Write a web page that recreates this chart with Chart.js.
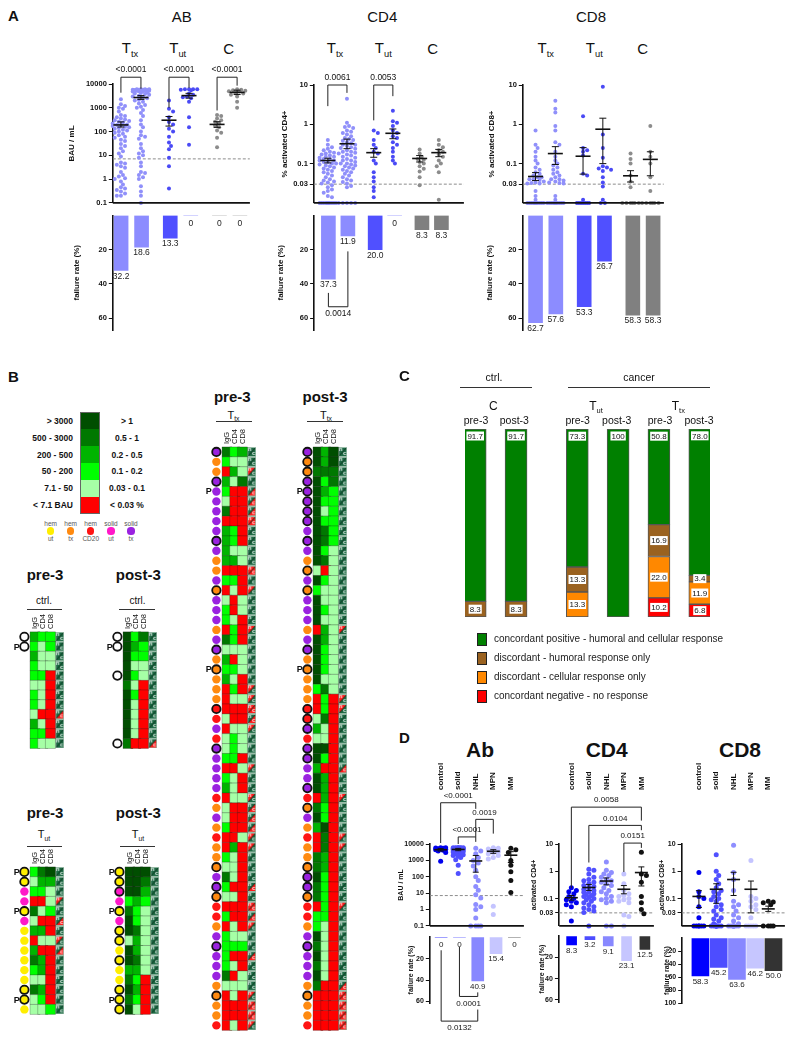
<!DOCTYPE html>
<html>
<head>
<meta charset="utf-8">
<title>Vaccine response: humoral and cellular</title>
<script src="https://cdn.jsdelivr.net/npm/chart.js@4.4.0/dist/chart.umd.min.js"></script>
<style>
  body { margin: 0; background: #fff; }
  #page { position: relative; width: 791px; height: 1041px; overflow: hidden;
          font-family: "Liberation Sans", Arial, sans-serif; color: #111; }
  #page canvas { position: absolute; }
  .lbl { position: absolute; transform: translate(-50%, -50%); white-space: nowrap; line-height: 1; }
  .sub { font-size: 0.62em; position: relative; top: 0.4em; }
  .rule { position: absolute; height: 1px; background: #333; }
  .letter { position: absolute; font-weight: bold; font-size: 15px; line-height: 1; }
  .bin { position: absolute; width: 18px; }
  .legsq { position: absolute; width: 8px; height: 11px; border: 1px solid #222; }
  .legtx { position: absolute; font-size: 10px; line-height: 1; white-space: nowrap; color: #222; }
</style>
</head>
<body>
<div id="page"></div>
<script>
/* ================================================================
   Figure — antibody / T-cell response after vaccination
   ================================================================ */

// ── Panel A · groups ─────────────────────────────────────────
const groupsA = ['Ttx pre-3', 'Ttx post-3', 'Tut pre-3', 'Tut post-3', 'C pre-3', 'C post-3'];

// ── Panel A · anti-spike IgG (BAU / mL) ──────────────────────
const abTtxPre  = [2300, 1400, 1200, 1000, 900, 700, 500, 450, 400, 350, 320, 300, 280, 260, 240, 220, 200, 190, 180, 170,
                   160, 150, 140, 130, 120, 110, 100, 90, 80, 70, 60, 55, 45, 40, 30, 25, 20, 15, 12, 9,
                   5, 4.5, 4, 3.5, 3, 2, 1.5, 1.3, 1.1, 1, 0.8, 0.6, 0.45, 0.4, 0.35, 0.3, 0.25, 0.2, 0.2];
const abTtxPost = [6000, 6000, 6000, 6000, 5800, 5800, 5800, 5600, 5600, 5400, 5400, 5200, 5200, 5000, 5000, 4800, 4500, 4200, 4000, 3800,
                   3500, 3200, 3000, 2800, 2500, 2200, 2000, 1800, 1500, 1300, 1100, 1000, 800, 600, 450, 300, 200, 150, 100, 70,
                   60, 50, 30, 20, 15, 12, 10, 8, 5, 3.5, 2, 1.8, 1.5, 1.2, 1, 0.5, 0.3, 0.2, 0.1];
const abTutPre  = [2000, 900, 700, 400, 250, 200, 130, 100, 60, 35, 25, 18, 8, 3.5, 0.4];
const abTutPost = [6000, 6000, 6000, 6000, 5800, 5500, 4000, 3500, 3000, 2800, 2500, 1800, 400, 150, 28];
const abCPre    = [500, 450, 350, 300, 260, 220, 180, 150, 110, 90, 55, 22];
const abCPost   = [6000, 5800, 5500, 5200, 5000, 4800, 4500, 4000, 3500, 3000, 1800, 1000];
const abMean    = [190, 2700, 300, 3250, 200, 4450];
const abSemLo   = [155, 2250, 170, 2540, 150, 3600];
const abSemHi   = [255, 3250, 430, 4050, 260, 5500];
const abFail    = [32.2, 18.6, 13.3, 0, 0, 0];

// ── Panel A · % activated CD4+ ───────────────────────────────
const cd4TtxPre  = [0.4, 0.3, 0.26, 0.24, 0.22, 0.2, 0.19, 0.18, 0.17, 0.16, 0.15, 0.15, 0.14, 0.13, 0.13, 0.12, 0.12, 0.11, 0.11, 0.1,
                    0.1, 0.095, 0.09, 0.085, 0.08, 0.075, 0.07, 0.065, 0.06, 0.055, 0.05, 0.045, 0.04, 0.037, 0.035, 0.033, 0.031,
                    0.028, 0.025, 0.022, 0.02, 0.018, 0.015, 0.014,
                    0.01, 0.01, 0.01, 0.01, 0.01, 0.01, 0.01, 0.01, 0.01, 0.01, 0.01, 0.01, 0.01, 0.01, 0.01];
const cd4TtxPost = [4.5, 1.1, 0.9, 0.85, 0.8, 0.7, 0.65, 0.6, 0.55, 0.5, 0.45, 0.42, 0.4, 0.38, 0.35, 0.33, 0.3, 0.3, 0.28, 0.26,
                    0.25, 0.24, 0.22, 0.2, 0.2, 0.19, 0.18, 0.17, 0.16, 0.15, 0.14, 0.13, 0.12, 0.12, 0.11, 0.1, 0.1, 0.095, 0.09, 0.085,
                    0.08, 0.075, 0.07, 0.065, 0.06, 0.055, 0.05, 0.045, 0.04, 0.037, 0.034, 0.031,
                    0.027, 0.025, 0.01, 0.01, 0.01, 0.01, 0.01];
const cd4TutPre  = [0.7, 0.6, 0.4, 0.3, 0.25, 0.2, 0.18, 0.12, 0.1, 0.06, 0.045, 0.035, 0.025, 0.02, 0.014];
const cd4TutPost = [2.2, 1.2, 1.1, 0.9, 0.7, 0.6, 0.5, 0.45, 0.35, 0.3, 0.25, 0.2, 0.15, 0.12, 0.1];
const cd4CPre    = [0.23, 0.18, 0.15, 0.13, 0.125, 0.11, 0.1, 0.086, 0.074, 0.063, 0.045, 0.028];
const cd4CPost   = [0.4, 0.3, 0.26, 0.22, 0.2, 0.17, 0.15, 0.12, 0.1, 0.085, 0.06, 0.012];
const cd4Mean    = [0.12, 0.32, 0.19, 0.59, 0.135, 0.19];
const cd4SemLo   = [0.104, 0.24, 0.145, 0.43, 0.11, 0.15];
const cd4SemHi   = [0.137, 0.42, 0.24, 0.76, 0.16, 0.23];
const cd4Fail    = [37.3, 11.9, 20.0, 0, 8.3, 8.3];

// ── Panel A · % activated CD8+ ───────────────────────────────
const cd8TtxPre  = [0.7, 0.3, 0.25, 0.2, 0.15, 0.12, 0.1, 0.08, 0.07, 0.06, 0.055, 0.05, 0.045, 0.045, 0.04, 0.04, 0.038, 0.035, 0.033, 0.032,
                    0.031, 0.031, 0.02, 0.015, 0.012,
                    0.01, 0.01, 0.01, 0.01, 0.01, 0.01, 0.01, 0.01, 0.01, 0.01, 0.01, 0.01, 0.01, 0.01, 0.01, 0.01, 0.01,
                    0.01, 0.01, 0.01, 0.01, 0.01, 0.01, 0.01, 0.01, 0.01, 0.01, 0.01, 0.01, 0.01, 0.01, 0.01, 0.01, 0.01];
const cd8TtxPost = [4, 2.5, 2, 0.9, 0.7, 0.35, 0.3, 0.2, 0.15, 0.12, 0.1, 0.09, 0.08, 0.07, 0.06, 0.055, 0.05, 0.045, 0.04, 0.04,
                    0.037, 0.035, 0.033, 0.032, 0.031, 0.015, 0.012,
                    0.01, 0.01, 0.01, 0.01, 0.01, 0.01, 0.01, 0.01, 0.01, 0.01, 0.01, 0.01, 0.01, 0.01, 0.01, 0.01,
                    0.01, 0.01, 0.01, 0.01, 0.01, 0.01, 0.01, 0.01, 0.01, 0.01, 0.01, 0.01, 0.01, 0.01, 0.01, 0.01];
const cd8TutPre  = [1.6, 0.25, 0.22, 0.2, 0.16, 0.055, 0.05, 0.012, 0.01, 0.01, 0.01, 0.01, 0.01, 0.01, 0.01];
const cd8TutPost = [9, 0.55, 0.25, 0.14, 0.085, 0.08, 0.075, 0.07, 0.065, 0.045, 0.033, 0.026, 0.012, 0.01, 0.01];
const cd8CPre    = [0.18, 0.13, 0.1, 0.05, 0.035, 0.025, 0.01, 0.01, 0.01, 0.01, 0.01, 0.01];
const cd8CPost   = [0.9, 0.2, 0.15, 0.1, 0.045, 0.02, 0.01, 0.01, 0.01, 0.01, 0.01, 0.01];
const cd8Mean    = [0.047, 0.18, 0.154, 0.75, 0.049, 0.128];
const cd8SemLo   = [0.037, 0.095, 0.054, 0.1, 0.034, 0.049];
const cd8SemHi   = [0.059, 0.27, 0.255, 1.43, 0.066, 0.2];
const cd8Fail    = [62.7, 57.6, 53.3, 26.7, 58.3, 58.3];

// ── Panel B · heat maps (IgG, CD4, CD8 level 0–5 per row) ────
const ctrlPreCells  = ['322', '212', '311', '211', '220', '110', '210', '210', '100', '310', '220', '211'];
const ctrlPostCells = ['524', '532', '522', '511', '521', '410', '520', '510', '510', '510', '510', '400'];
const tutPreCells   = ['245', '133', '221', '001', '412', '100', '330', '011', '300', '430', '230', '110', '430', '120', '112'];
const tutPostCells  = ['555', '554', '553', '232', '421', '521', '541', '131', '531', '541', '331', '420', '530', '420', '510'];
const ttxPreCells   = ['423', '211', '031', '314', '200', '100', '400', '000', '320', '320', '311', '331', '000', '220', '010',
                       '101', '201', '210', '020', '420', '111', '301', '221', '310', '020', '011', '000', '100', '011', '121',
                       '121', '220', '001', '210', '310', '011', '100', '100', '200', '001', '030', '210', '110', '410', '200',
                       '110', '000', '200', '010', '211', '222', '200', '210', '401', '111', '010', '000', '000', '010'];
const ttxPostCells  = ['535', '535', '444', '524', '532', '522', '512', '522', '542', '542', '521', '541', '101', '521', '211',
                       '511', '521', '511', '031', '531', '521', '521', '521', '511', '241', '020', '020', '140', '310', '110',
                       '550', '520', '300', '530', '530', '030', '420', '520', '350', '040', '040', '430', '430', '520', '420',
                       '420', '020', '220', '210', '510', '410', '510', '410', '510', '400', '000', '000', '000', '000'];
// patient group per row: Y hem-ut, O hem-tx, R hem-CD20, M solid-ut, V solid-tx, W control, - none
const ctrlPreDots  = 'WW----------';
const ctrlPostDots = 'WW--W------W';
const tutDots      = 'YYMMYMYYYYYYYYY';
const ttxDots      = 'VOOVVVVVVVVOOVOVVVOVVOOOOORRVRVVVVVROVOROOOVVORROVVVVVOOOOR';
const tutPreRing   = [0, 1, 4, 12, 13];
const tutPostRing  = [0, 1, 2, 4, 6, 7, 9, 12, 13, 14];
const ttxPreRing   = [0, 3, 9, 14, 20, 22, 26, 30, 42, 44, 45, 50, 55];
const ttxPostRing  = [0, 1, 2, 3, 4, 5, 6, 7, 9, 12, 14, 20, 22, 26, 27, 28, 30, 31, 34, 36, 42, 43, 44, 45, 50, 55];
const ctrlPRows = [1];
const tutPRows  = [0, 4, 13];
const ttxPRows  = [4, 22];
const legendBau = ['> 3000', '500 - 3000', '200 - 500', '50 - 200', '7.1 - 50', '< 7.1 BAU'];
const legendPct = ['> 1', '0.5 - 1', '0.2 - 0.5', '0.1 - 0.2', '0.03 - 0.1', '< 0.03 %'];

// ── Panel C · response categories (%) ───────────────────────
const cBars      = ['C pre-3', 'C post-3', 'Tut pre-3', 'Tut post-3', 'Ttx pre-3', 'Ttx post-3'];
const cPositive  = [91.7, 91.7, 73.3, 100, 50.8, 78.0];
const cHumoral   = [8.3, 8.3, 13.3, 0, 16.9, 3.4];
const cCellular  = [0, 0, 13.3, 0, 22.0, 11.9];
const cNegative  = [0, 0, 0, 0, 10.2, 6.8];

// ── Panel D · by tumour entity (post-3) ──────────────────────
const groupsD = ['control', 'solid', 'NHL', 'MPN', 'MM'];
const dAbControl = [6000, 6000, 5800, 5500, 5200, 5000, 4800, 4500, 4200, 3800, 3000, 900];
const dAbSolid   = [6000, 6000, 6000, 6000, 6000, 6000, 5800, 5600, 5500, 5400, 5200, 5000, 5000, 4800, 4600, 4400,
                    4200, 4000, 3800, 3500, 3200, 3000, 2800, 2500, 2200, 2000, 1800, 1500, 1100, 500, 160];
const dAbNHL     = [5500, 3800, 2500, 1500, 1000, 700, 450, 250, 100, 60, 25, 15, 8, 5, 2, 1.5, 1, 0.3, 0.1, 0.1, 0.1, 0.1];
const dAbMPN     = [6000, 5500, 5000, 4500, 4000, 3500, 3000, 2500, 2000, 1500, 1200, 1.6, 0.5];
const dAbMM      = [5500, 4500, 3000, 1000, 500, 200, 60, 11];
const dAbMean    = [4460, 4650, 920, 3600, 2070];
const dAbSemLo   = [3700, 3900, 190, 2700, 740];
const dAbSemHi   = [5200, 5400, 2000, 4500, 3400];
const dAbFail    = [0, 0, 40.9, 15.4, 0];

const dCd4Control = [0.25, 0.2, 0.18, 0.15, 0.12, 0.1, 0.09, 0.08, 0.07, 0.06, 0.05, 0.015];
const dCd4Solid   = [1.2, 1.1, 0.8, 0.6, 0.5, 0.45, 0.4, 0.35, 0.3, 0.28, 0.25, 0.22, 0.2, 0.18, 0.17, 0.15,
                     0.14, 0.13, 0.12, 0.11, 0.1, 0.09, 0.08, 0.07, 0.06, 0.05, 0.045, 0.04, 0.035, 0.031, 0.01];
const dCd4NHL     = [2.2, 1.1, 0.9, 0.8, 0.7, 0.6, 0.5, 0.45, 0.4, 0.35, 0.3, 0.25, 0.2, 0.18, 0.15, 0.12, 0.1, 0.09, 0.08, 0.07, 0.01, 0.01];
const dCd4MPN     = [0.8, 0.35, 0.2, 0.15, 0.13, 0.12, 0.1, 0.09, 0.08, 0.07, 0.025, 0.022, 0.01];
const dCd4MM      = [5, 0.8, 0.7, 0.4, 0.12, 0.07, 0.04, 0.028];
const dCd4Mean    = [0.108, 0.255, 0.44, 0.22, 0.9];
const dCd4SemLo   = [0.088, 0.2, 0.32, 0.15, 0.29];
const dCd4SemHi   = [0.13, 0.33, 0.57, 0.3, 1.45];
const dCd4Fail    = [8.3, 3.2, 9.1, 23.1, 12.5];

const dCd8Control = [0.9, 0.18, 0.12, 0.1, 0.05, 0.02, 0.01, 0.01, 0.01, 0.01, 0.01, 0.01];
const dCd8Solid   = [4, 1, 0.7, 0.5, 0.35, 0.25, 0.2, 0.18, 0.15, 0.12, 0.1, 0.09, 0.08, 0.06, 0.05, 0.04, 0.035,
                     0.025, 0.02, 0.018, 0.015, 0.012, 0.01, 0.01, 0.01, 0.01, 0.01, 0.01, 0.01, 0.01, 0.01];
const dCd8NHL     = [9, 0.9, 0.5, 0.2, 0.08, 0.06, 0.05, 0.035, 0.025, 0.02, 0.015, 0.012,
                     0.01, 0.01, 0.01, 0.01, 0.01, 0.01, 0.01, 0.01, 0.01, 0.01];
const dCd8MPN     = [2.5, 0.12, 0.1, 0.08, 0.06, 0.05, 0.04, 0.02, 0.01, 0.01, 0.01, 0.01, 0.01];
const dCd8MM      = [0.08, 0.075, 0.07, 0.06, 0.01, 0.01, 0.01, 0.01];
const dCd8Mean    = [0.12, 0.22, 0.5, 0.22, 0.042];
const dCd8SemLo   = [0.047, 0.067, 0.13, 0.03, 0.034];
const dCd8SemHi   = [0.195, 0.35, 0.92, 0.44, 0.053];
const dCd8Fail    = [58.3, 45.2, 63.6, 46.2, 50.0];

// ── Styles ───────────────────────────────────────────────────
const FONT = '"Liberation Sans", Arial, sans-serif';
const posA = [0, 1, 2.4, 3.4, 4.8, 5.8];
const posD = [0, 1, 2, 3, 4];
const dotColA = ['#9090fa', '#9090fa', '#4a4af5', '#4a4af5', '#8c8c8c', '#8c8c8c'];
const barColA = ['#8c8cff', '#8c8cff', '#5050ff', '#5050ff', '#808080', '#808080'];
const dotColD = ['#0000ee', '#5050ff', '#8e8eff', '#c4c4ff', '#111111'];
const barColD = ['#0000ff', '#4d4dff', '#8888ff', '#c6c6ff', '#333333'];
const HEAT = ['#ff0000', '#a6ffa6', '#00ff00', '#00b400', '#007800', '#004e00'];
const DOT = { Y: '#ffee00', O: '#ff8a10', R: '#ff1414', M: '#ff18c8', V: '#9a22e0', W: '#ffffff' };

Chart.defaults.font.family = FONT;
Chart.defaults.color = '#111';
Chart.defaults.animation = false;
Chart.defaults.responsive = false;
Chart.defaults.events = [];
Chart.defaults.plugins.legend.display = false;
Chart.defaults.plugins.tooltip.enabled = false;
if (Chart.defaults.plugins.colors) Chart.defaults.plugins.colors.enabled = false;

const page = document.getElementById('page');

function mkCanvas(x, y, w, h) {
  const c = document.createElement('canvas');
  c.width = w; c.height = h;
  c.style.left = x + 'px'; c.style.top = y + 'px';
  c.style.width = w + 'px'; c.style.height = h + 'px';
  page.appendChild(c);
  return c;
}

function label(x, y, html, css) {
  const d = document.createElement('div');
  d.className = 'lbl';
  d.style.cssText = `left:${x}px;top:${y}px;` + (css || '');
  d.innerHTML = html;
  page.appendChild(d);
  return d;
}

function rule(x1, x2, y) {
  const d = document.createElement('div');
  d.className = 'rule';
  d.style.cssText = `left:${x1}px;top:${y}px;width:${x2 - x1}px;`;
  page.appendChild(d);
}

// simple beeswarm: horizontal offsets (px) so dots do not pile up
function swarm(vals, pxOf, r, maxOff) {
  const order = vals.map((v, i) => i).sort((a, b) => vals[b] - vals[a]);
  const placed = [], off = [];
  const step = r * 1.05;
  order.forEach(i => {
    const y = pxOf(vals[i]);
    let bestO = 0, bestD = -1;
    for (let k = 0; k < 40; k++) {
      const o = (k % 2 ? 1 : -1) * Math.ceil(k / 2) * step;
      if (Math.abs(o) > maxOff) break;
      let dmin = Infinity;
      placed.forEach(p => { dmin = Math.min(dmin, Math.hypot(p.x - o, p.y - y)); });
      if (dmin >= 1.8 * r) { bestO = o; break; }
      if (dmin > bestD) { bestD = dmin; bestO = o; }
    }
    off[i] = bestO;
    placed.push({ x: bestO, y });
  });
  return off;
}

// significance brackets, drawn through the chart scales
function bracketPlugin(items, pos, font, below) {
  return {
    id: 'brackets',
    afterDraw(chart) {
      const { ctx, scales: { x, y } } = chart;
      ctx.save();
      ctx.strokeStyle = '#222'; ctx.lineWidth = 1; ctx.fillStyle = '#111';
      ctx.font = font; ctx.textAlign = 'center';
      ctx.textBaseline = below ? 'top' : 'bottom';
      items.forEach(b => {
        const xa = x.getPixelForValue(pos[b.a]), xb = x.getPixelForValue(pos[b.b]);
        const ye = y.getPixelForValue(b.edge);
        ctx.beginPath();
        ctx.moveTo(xa, y.getPixelForValue(b.legA));
        ctx.lineTo(xa, ye); ctx.lineTo(xb, ye);
        ctx.lineTo(xb, y.getPixelForValue(b.legB));
        ctx.stroke();
        ctx.fillText(b.p, (xa + xb) / 2, below ? ye + 3 : ye - 3);
      });
      ctx.restore();
    }
  };
}

function catLabelPlugin(names, pos, gap) {
  return {
    id: 'catLabels',
    afterDraw(chart) {
      const { ctx, chartArea, scales: { x } } = chart;
      ctx.save();
      ctx.font = `bold 8px ${FONT}`; ctx.fillStyle = '#111';
      ctx.textAlign = 'left'; ctx.textBaseline = 'middle';
      names.forEach((n, i) => {
        ctx.save();
        ctx.translate(x.getPixelForValue(pos[i]), chartArea.top - gap);
        ctx.rotate(-Math.PI / 2);
        ctx.fillText(n, 0, 0);
        ctx.restore();
      });
      ctx.restore();
    }
  };
}

// ── Log-scale dot plot with mean ± SEM ───────────────────────
function logPanel(o) {
  const padL = 2, padR = o.padR, padT = o.padT, padB = 5;
  const left = Math.round(o.l - o.axisW - padL), top = Math.round(o.t - padT);
  const cv = mkCanvas(left, top, Math.round(o.r + padR) - left, Math.round(o.b + padB) - top);
  const xmin = (o.l - o.x0) / o.unit, xmax = (o.r - o.x0) / o.unit;
  const pxDec = (o.b - o.t) / Math.log10(o.max / o.min);

  const datasets = [
    { // x axis line along the lower limit of the log scale
      data: [{ x: xmin, y: o.min }, { x: xmax, y: o.min }],
      showLine: true, pointRadius: 0, borderColor: '#111', borderWidth: 1.6, clip: false, order: 0
    },
    { // detection threshold
      data: [{ x: xmin, y: o.thr }, { x: xmax, y: o.thr }],
      showLine: true, pointRadius: 0, borderColor: '#8c8c8c', borderWidth: 1, borderDash: [3, 2], order: 5
    }
  ];
  o.series.forEach((vals, g) => {
    const off = swarm(vals, v => -Math.log10(Math.max(v, o.min)) * pxDec, o.dotR, o.spread);
    datasets.push({
      data: vals.map((v, i) => ({ x: o.pos[g] + off[i] / o.unit, y: v })),
      pointRadius: o.dotR, pointBackgroundColor: o.colors[g], pointBorderWidth: 0, clip: false, order: 4
    });
  });
  const sem = [];
  o.mean.forEach((m, g) => {
    sem.push({ x: o.pos[g], y: o.lo[g] }, { x: o.pos[g], y: o.hi[g] }, { x: o.pos[g], y: null });
  });
  datasets.push({
    data: sem, showLine: true, spanGaps: false, borderColor: '#111', borderWidth: 1,
    pointStyle: 'line', pointRadius: o.cap, pointBorderColor: '#111', pointBorderWidth: 1, clip: false, order: 2
  });
  datasets.push({
    data: o.mean.map((m, g) => ({ x: o.pos[g], y: m })),
    pointStyle: 'line', pointRadius: o.meanHalf, pointBorderColor: '#111', pointBorderWidth: 1.6, clip: false, order: 1
  });

  const plugins = [bracketPlugin(o.brackets || [], o.pos, `${o.pSize}px ${FONT}`, false)];
  if (o.cats) plugins.push(catLabelPlugin(o.cats, o.pos, o.catGap));

  new Chart(cv, {
    type: 'scatter',
    data: { datasets },
    options: {
      layout: { padding: { left: padL, right: padR, top: padT, bottom: padB } },
      scales: {
        x: { type: 'linear', min: xmin, max: xmax, offset: false, display: false },
        y: {
          type: 'logarithmic', min: o.min, max: o.max,
          afterBuildTicks: s => { s.ticks = o.ticks.map(v => ({ value: v })); },
          ticks: { callback: v => String(v), font: { size: o.tickSize, weight: 'bold' }, color: '#111', padding: 2, autoSkip: false },
          grid: { drawOnChartArea: false, drawTicks: true, tickLength: 4, color: '#111', lineWidth: 1 },
          border: { display: true, color: '#111', width: 1.6 },
          title: { display: true, text: o.title, font: { size: o.titleSize, weight: 'bold' }, color: '#111', padding: { top: 0, bottom: 0 } },
          afterFit: s => { s.width = o.axisW; }
        }
      }
    },
    plugins
  });
}

// ── Failure-rate bars hanging below the dot plot ─────────────
function barPanel(o) {
  const padL = 2, padR = o.padR, padT = 2, padB = o.padB;
  const left = Math.round(o.l - o.axisW - padL), top = Math.round(o.t - padT);
  const cv = mkCanvas(left, top, Math.round(o.r + padR) - left, Math.round(o.b + padB) - top);
  const xmin = (o.l - o.x0) / o.unit, xmax = (o.r - o.x0) / o.unit;

  const labels = {
    id: 'barLabels',
    afterDatasetsDraw(chart) {
      const { ctx, scales: { y } } = chart;
      const meta = chart.getDatasetMeta(0);
      ctx.save();
      ctx.font = `${o.labelSize}px ${FONT}`; ctx.fillStyle = '#222';
      ctx.textAlign = 'center'; ctx.textBaseline = 'top';
      meta.data.forEach((el, i) => {
        const v = o.vals[i];
        const ty = v === 0 ? y.getPixelForValue(0) + o.zeroGap : el.y + 1.5;
        ctx.fillText(v === 0 ? '0' : v.toFixed(1), el.x, ty);
      });
      ctx.restore();
    }
  };
  const plugins = [labels];
  if (o.brackets) plugins.push(bracketPlugin(o.brackets, o.pos, `${o.pSize}px ${FONT}`, true));

  new Chart(cv, {
    type: 'bar',
    data: {
      datasets: [{
        data: o.vals.map((v, i) => ({ x: o.pos[i], y: v })),
        backgroundColor: o.colors, barThickness: o.barW, borderWidth: 0
      }]
    },
    options: {
      layout: { padding: { left: padL, right: padR, top: padT, bottom: padB } },
      scales: {
        x: { type: 'linear', min: xmin, max: xmax, offset: false, display: false },
        y: {
          min: 0, max: o.max, reverse: true,
          afterBuildTicks: s => { s.ticks = o.ticks.map(v => ({ value: v })); },
          ticks: { font: { size: o.tickSize, weight: 'bold' }, color: '#111', padding: 2, autoSkip: false },
          grid: { drawOnChartArea: false, tickLength: 4, color: '#111' },
          border: { display: true, color: '#111', width: 1.6 },
          title: { display: true, text: 'failure rate (%)', font: { size: o.titleSize, weight: 'bold' }, color: '#111', padding: { top: 0, bottom: 0 } },
          afterFit: s => { s.width = o.axisW; }
        }
      }
    },
    plugins
  });
}

// ── Heat map rows: patient dot, IgG / CD4 / CD8 cells, h|c flag ──
const hcCache = {};
function hcImage(hRed, cRed, w, h) {
  const key = `${hRed}${cRed}${w}${h}`;
  if (hcCache[key]) return hcCache[key];
  const c = document.createElement('canvas');
  c.width = w; c.height = h;
  const g = c.getContext('2d');
  g.fillStyle = '#1d6a44'; g.fillRect(0, 0, w, h);
  g.fillStyle = '#ff1a1a';
  if (hRed) { g.beginPath(); g.moveTo(0, 0); g.lineTo(w, 0); g.lineTo(0, h); g.closePath(); g.fill(); }
  if (cRed) { g.beginPath(); g.moveTo(w, 0); g.lineTo(w, h); g.lineTo(0, h); g.closePath(); g.fill(); }
  g.strokeStyle = '#0a2a18'; g.lineWidth = 0.8;
  g.beginPath(); g.moveTo(0, h); g.lineTo(w, 0); g.stroke();
  g.fillStyle = '#fff'; g.font = `bold 5px ${FONT}`; g.textBaseline = 'top';
  g.fillText('h', 1, 0); g.fillText('c', w - 4, h - 6);
  g.strokeStyle = '#98bca8'; g.lineWidth = 1; g.strokeRect(0.5, 0.5, w - 1, h - 1);
  hcCache[key] = c;
  return c;
}

function heatPanel(o) {
  const cw = 10, n = o.cells.length, xmin = -2.9, xmax = 3.8, padT = 22;
  const xDot = -1.38, xP = -2.38, xHC = 3.2;
  const left = Math.round(o.cx + xmin * cw), top = Math.round(o.top - padT);
  const cv = mkCanvas(left, top, Math.round((xmax - xmin) * cw), Math.round(n * o.rh + padT + 1));

  const cellPts = [], cellCols = [];
  o.cells.forEach((row, i) => [...row].forEach((lv, c) => {
    cellPts.push({ x: c, y: i });
    cellCols.push(HEAT[+lv]);
  }));
  const dotPts = [], dotCols = [], dotRing = [];
  [...o.dots].forEach((d, i) => {
    if (d === '-') return;
    dotPts.push({ x: xDot, y: i });
    dotCols.push(DOT[d]);
    dotRing.push(o.ring.includes(i) ? 1.8 : 0);
  });
  const hcStyles = o.cells.map(row => hcImage(row[0] === '0', row[1] === '0' && row[2] === '0', 9, Math.round(o.rh)));

  const extras = {
    id: 'heatText',
    afterDraw(chart) {
      const { ctx, chartArea, scales: { x, y } } = chart;
      ctx.save();
      ctx.fillStyle = '#111';
      ctx.font = `7.5px ${FONT}`; ctx.textAlign = 'left'; ctx.textBaseline = 'middle';
      ['IgG', 'CD4', 'CD8'].forEach((t, c) => {
        ctx.save();
        ctx.translate(x.getPixelForValue(c), chartArea.top - 3);
        ctx.rotate(-Math.PI / 2);
        ctx.fillText(t, 0, 0);
        ctx.restore();
      });
      ctx.font = `bold 9px ${FONT}`; ctx.textAlign = 'center';
      o.pRows.forEach(i => ctx.fillText('P', x.getPixelForValue(xP), y.getPixelForValue(i) + 0.5));
      ctx.restore();
    }
  };

  new Chart(cv, {
    type: 'scatter',
    data: {
      datasets: [
        { data: cellPts, pointStyle: 'rect', pointRadius: cw / Math.SQRT2, pointBackgroundColor: cellCols,
          pointBorderColor: 'rgba(30,30,30,0.45)', pointBorderWidth: 0.6, clip: false },
        { data: o.cells.map((r, i) => ({ x: xHC, y: i })), pointStyle: hcStyles, pointRadius: 5, clip: false },
        { data: dotPts, pointRadius: 4.2, pointBackgroundColor: dotCols, pointBorderColor: '#111',
          pointBorderWidth: dotRing, clip: false }
      ]
    },
    options: {
      layout: { padding: { left: 0, right: 0, top: padT, bottom: 1 } },
      scales: {
        x: { type: 'linear', min: xmin, max: xmax, display: false },
        y: { type: 'linear', min: -0.5, max: n - 0.5, reverse: true, display: false }
      }
    },
    plugins: [extras]
  });
}

// ================================================================
//   PANEL A
// ================================================================
const letter = (t, x, y) => { const d = document.createElement('div'); d.className = 'letter'; d.textContent = t; d.style.left = x + 'px'; d.style.top = y + 'px'; page.appendChild(d); };
letter('A', 8, 8);

label(181.7, 16, 'AB', 'font-size:15px;');
label(382.3, 16, 'CD4', 'font-size:15px;');
label(591, 16, 'CD8', 'font-size:15px;');
[[130, 177.7, 228.7], [335, 383.3, 432.7], [545.7, 594.3, 642.7]].forEach(xs => {
  label(xs[0], 48, 'T<span class="sub">tx</span>', 'font-size:15px;');
  label(xs[1], 48, 'T<span class="sub">ut</span>', 'font-size:15px;');
  label(xs[2], 48, 'C', 'font-size:15px;');
});

logPanel({
  l: 112.7, r: 253, t: 84.3, b: 207.3, x0: 121, unit: 20.5, pos: posA,
  min: 0.1, max: 10000, ticks: [0.1, 1, 10, 100, 1000, 10000], thr: 7.1,
  axisW: 45.8, title: 'BAU / mL', tickSize: 7.5, titleSize: 8, padT: 26, padR: 6,
  series: [abTtxPre, abTtxPost, abTutPre, abTutPost, abCPre, abCPost], colors: dotColA,
  mean: abMean, lo: abSemLo, hi: abSemHi, dotR: 2, spread: 9, meanHalf: 7.5, cap: 3.5, pSize: 8.5,
  brackets: [
    { a: 0, b: 1, edge: 19300, legA: 4300, legB: 6300, p: '<0.0001' },
    { a: 2, b: 3, edge: 19300, legA: 1000, legB: 6900, p: '<0.0001' },
    { a: 4, b: 5, edge: 19300, legA: 770, legB: 8500, p: '<0.0001' }
  ]
});
barPanel({
  l: 112.7, r: 253, t: 211, b: 330, x0: 121, unit: 20.5, pos: posA, max: 67, ticks: [20, 40, 60],
  axisW: 40.8, vals: abFail, colors: barColA, barW: 14, tickSize: 7.5, titleSize: 8,
  labelSize: 8.5, zeroGap: 4, padR: 6, padB: 8
});

logPanel({
  l: 314, r: 467, t: 85, b: 207.3, x0: 328.3, unit: 19.5, pos: posA,
  min: 0.01, max: 10, ticks: [0.03, 0.1, 1, 10], thr: 0.03,
  axisW: 33.8, title: '% activated CD4+', tickSize: 7.5, titleSize: 8, padT: 26, padR: 6,
  series: [cd4TtxPre, cd4TtxPost, cd4TutPre, cd4TutPost, cd4CPre, cd4CPost], colors: dotColA,
  mean: cd4Mean, lo: cd4SemLo, hi: cd4SemHi, dotR: 2, spread: 9, meanHalf: 7.5, cap: 3.5, pSize: 8.5,
  brackets: [
    { a: 0, b: 1, edge: 10, legA: 2.9, legB: 6.3, p: '0.0061' },
    { a: 2, b: 3, edge: 10, legA: 1.26, legB: 5.2, p: '0.0053' }
  ]
});
barPanel({
  l: 314, r: 467, t: 211, b: 330, x0: 328.3, unit: 19.5, pos: posA, max: 67, ticks: [20, 40, 60],
  axisW: 38.1, vals: cd4Fail, colors: barColA, barW: 14, tickSize: 7.5, titleSize: 8,
  labelSize: 8.5, zeroGap: 4, padR: 6, padB: 8, pSize: 8.5,
  brackets: [{ a: 0, b: 1, edge: 53.4, legA: 45.3, legB: 21, p: '0.0014' }]
});

logPanel({
  l: 522.7, r: 666.7, t: 85, b: 207.3, x0: 535.7, unit: 20.2, pos: posA,
  min: 0.01, max: 10, ticks: [0.03, 0.1, 1, 10], thr: 0.03,
  axisW: 35.8, title: '% activated CD8+', tickSize: 7.5, titleSize: 8, padT: 26, padR: 6,
  series: [cd8TtxPre, cd8TtxPost, cd8TutPre, cd8TutPost, cd8CPre, cd8CPost], colors: dotColA,
  mean: cd8Mean, lo: cd8SemLo, hi: cd8SemHi, dotR: 2, spread: 9, meanHalf: 7.5, cap: 3.5, pSize: 8.5
});
barPanel({
  l: 522.7, r: 666.7, t: 211, b: 330, x0: 535.7, unit: 20.2, pos: posA, max: 67, ticks: [20, 40, 60],
  axisW: 37.5, vals: cd8Fail, colors: barColA, barW: 14, tickSize: 7.5, titleSize: 8,
  labelSize: 8.5, zeroGap: 4, padR: 6, padB: 12
});

// ================================================================
//   PANEL B
// ================================================================
letter('B', 8, 369);

// colour key
legendBau.forEach((t, k) => {
  const y0 = 412.7 + k * 16.77;
  const d = document.createElement('div');
  d.className = 'bin';
  d.style.cssText = `left:81px;top:${y0}px;height:16.77px;background:${HEAT[5 - k]};`;
  page.appendChild(d);
  label(73, y0 + 8.4, t, 'font-size:8.5px;font-weight:bold;transform:translate(-100%,-50%);');
  label(127, y0 + 8.4, legendPct[k], 'font-size:8.5px;font-weight:bold;');
});
(() => {
  const d = document.createElement('div');
  d.style.cssText = 'position:absolute;left:80px;top:411.7px;width:18px;height:100.6px;border:1px solid #666;';
  page.appendChild(d);
})();
[['hem', 'ut', 'Y'], ['hem', 'tx', 'O'], ['hem', 'CD20', 'R'], ['solid', 'ut', 'M'], ['solid', 'tx', 'V']].forEach((g, k) => {
  const x = [50.7, 70.7, 90.7, 111, 131][k];
  label(x, 524, g[0], 'font-size:6.5px;color:#555;');
  label(x, 538.5, g[1], 'font-size:6.5px;color:#555;');
  const d = document.createElement('div');
  d.style.cssText = `position:absolute;left:${x - 3.6}px;top:${531 - 3.6}px;width:7.2px;height:7.2px;border-radius:50%;background:${DOT[g[2]]};`;
  page.appendChild(d);
});

// titles
const bold15 = 'font-size:15px;font-weight:bold;';
label(45, 574, 'pre-3', bold15);   label(138.3, 574, 'post-3', bold15);
label(44, 600.5, 'ctrl.', 'font-size:10px;'); label(137.5, 600.5, 'ctrl.', 'font-size:10px;');
rule(26.7, 61.7, 609); rule(119.3, 155, 609);
label(45, 812, 'pre-3', bold15);   label(138.3, 812, 'post-3', bold15);
label(44, 834, 'T<span class="sub">ut</span>', 'font-size:11px;'); label(138, 834, 'T<span class="sub">ut</span>', 'font-size:11px;');
rule(26.7, 62, 846); rule(120, 155, 846);
label(232.3, 396, 'pre-3', bold15); label(325, 396, 'post-3', bold15);
label(233.5, 414.5, 'T<span class="sub">tx</span>', 'font-size:11px;'); label(326, 414.5, 'T<span class="sub">tx</span>', 'font-size:11px;');
rule(215.7, 251.7, 421); rule(307.3, 343.3, 421);

heatPanel({ cx: 34.4, top: 632.3, rh: 10.25, cells: ctrlPreCells, dots: ctrlPreDots, ring: [0, 1], pRows: ctrlPRows });
heatPanel({ cx: 127.2, top: 632.3, rh: 10.25, cells: ctrlPostCells, dots: ctrlPostDots, ring: [0, 1, 4, 11], pRows: ctrlPRows });
heatPanel({ cx: 34.2, top: 867.3, rh: 10.25, cells: tutPreCells, dots: tutDots, ring: tutPreRing, pRows: tutPRows });
heatPanel({ cx: 128.6, top: 867.3, rh: 10.25, cells: tutPostCells, dots: tutDots, ring: tutPostRing, pRows: tutPRows });
heatPanel({ cx: 225.6, top: 446.7, rh: 10, cells: ttxPreCells, dots: ttxDots, ring: ttxPreRing, pRows: ttxPRows });
heatPanel({ cx: 317.2, top: 446.7, rh: 10, cells: ttxPostCells, dots: ttxDots, ring: ttxPostRing, pRows: ttxPRows });

// ================================================================
//   PANEL C
// ================================================================
letter('C', 399, 368);
label(494, 377.3, 'ctrl.', 'font-size:10.5px;');
label(639, 377.3, 'cancer', 'font-size:10.5px;');
rule(460, 531.7, 386.5); rule(568.3, 710, 386.5);
label(493.3, 406, 'C', 'font-size:12px;');
label(596, 406, 'T<span class="sub">ut</span>', 'font-size:12px;');
label(678.3, 406, 'T<span class="sub">tx</span>', 'font-size:12px;');
['pre-3', 'post-3', 'pre-3', 'post-3', 'pre-3', 'post-3'].forEach((t, i) => {
  label([476, 514.3, 577.7, 616.7, 660, 699][i], 420, t, 'font-size:10.5px;');
});

(function panelC() {
  const slots = [0, 2, 5, 7, 9, 11], nSlots = 12;
  const l = 464.8, r = 710.2, t = 429, b = 617, pad = 6;
  const cv = mkCanvas(Math.round(l - pad), Math.round(t - pad), Math.round(r - l + 2 * pad), Math.round(b - t + 2 * pad));
  const spread = arr => {
    const d = new Array(nSlots).fill(null);
    slots.forEach((s, i) => { d[s] = arr[i] || null; });
    return d;
  };
  const cLabels = {
    id: 'cLabels',
    afterDatasetsDraw(chart) {
      const { ctx } = chart;
      ctx.save();
      ctx.font = `8px ${FONT}`; ctx.textAlign = 'center'; ctx.textBaseline = 'middle';
      chart.data.datasets.forEach((ds, di) => {
        chart.getDatasetMeta(di).data.forEach((el, i) => {
          const v = ds.data[i];
          if (v == null) return;
          const txt = v === 100 ? '100' : v.toFixed(1);
          const y = di === 3 ? el.y + 7 : (el.y + el.base) / 2;
          const w = ctx.measureText(txt).width + 2;
          ctx.fillStyle = '#fff'; ctx.fillRect(el.x - w / 2, y - 4.5, w, 9);
          ctx.fillStyle = '#111'; ctx.fillText(txt, el.x, y + 0.5);
        });
      });
      ctx.restore();
    }
  };
  const common = { barThickness: 22, borderColor: '#555', borderWidth: 1, borderSkipped: false };
  new Chart(cv, {
    type: 'bar',
    data: {
      labels: Array.from({ length: nSlots }, (_, i) => String(i)),
      datasets: [
        Object.assign({ label: 'concordant negative - no response', data: spread(cNegative), backgroundColor: '#ff0000' }, common),
        Object.assign({ label: 'discordant - cellular response only', data: spread(cCellular), backgroundColor: '#ff8800' }, common),
        Object.assign({ label: 'discordant - humoral response only', data: spread(cHumoral), backgroundColor: '#9a6220' }, common),
        Object.assign({ label: 'concordant positive - humoral and cellular response', data: spread(cPositive), backgroundColor: '#008000' }, common)
      ]
    },
    options: {
      layout: { padding: pad },
      scales: {
        x: { stacked: true, display: false },
        y: { stacked: true, min: 0, max: 100, display: false }
      }
    },
    plugins: [cLabels]
  });
})();

// legend for C
[['#008000', 'concordant positive - humoral and cellular response'],
 ['#9a6220', 'discordant - humoral response only'],
 ['#ff8800', 'discordant - cellular response only'],
 ['#ff0000', 'concordant negative - no response']].forEach((e, k) => {
  const y = 639 + k * 19.2;
  const sq = document.createElement('div');
  sq.className = 'legsq';
  sq.style.cssText = `left:477px;top:${y - 6.5}px;background:${e[0]};`;
  page.appendChild(sq);
  const tx = document.createElement('div');
  tx.className = 'legtx';
  tx.style.cssText = `left:494px;top:${y - 5.5}px;`;
  tx.textContent = e[1];
  page.appendChild(tx);
});

// ================================================================
//   PANEL D
// ================================================================
letter('D', 399, 730);
label(480, 749, 'Ab', 'font-size:21px;font-weight:bold;');
label(606.7, 749, 'CD4', 'font-size:21px;font-weight:bold;');
label(740, 749, 'CD8', 'font-size:21px;font-weight:bold;');

logPanel({
  l: 429.3, r: 528, t: 844, b: 929.3, x0: 440.7, unit: 18.4, pos: posD,
  min: 0.1, max: 10000, ticks: [0.1, 1, 10, 100, 1000, 10000], thr: 7.1,
  axisW: 32.8, title: 'BAU / mL', tickSize: 7, titleSize: 7, padT: 92, padR: 4,
  series: [dAbControl, dAbSolid, dAbNHL, dAbMPN, dAbMM], colors: dotColD,
  mean: dAbMean, lo: dAbSemLo, hi: dAbSemHi, dotR: 2.5, spread: 7, meanHalf: 6.5, cap: 3, pSize: 8,
  cats: groupsD, catGap: 54,
  brackets: [
    { a: 0, b: 2, edge: 3.3e6, legA: 11500, legB: 1.4e6, p: '<0.0001' },
    { a: 2, b: 3, edge: 3.2e5, legA: 27000, legB: 43000, p: '0.0019' },
    { a: 1, b: 2, edge: 27000, legA: 10000, legB: 13500, p: '<0.0001' }
  ]
});
barPanel({
  l: 429.3, r: 528, t: 932.7, b: 1003, x0: 440.7, unit: 18.4, pos: posD, max: 61.4, ticks: [20, 40, 60],
  axisW: 22.8, vals: dAbFail, colors: barColD, barW: 12, tickSize: 7, titleSize: 7,
  labelSize: 8, zeroGap: 3.5, padR: 4, padB: 38, pSize: 8,
  brackets: [
    { a: 1, b: 2, edge: 55.3, legA: 9, legB: 51.5, p: '0.0001' },
    { a: 0, b: 2, edge: 78.3, legA: 12.2, legB: 67.5, p: '0.0132' }
  ]
});

logPanel({
  l: 559, r: 658, t: 844.3, b: 929.3, x0: 571.7, unit: 18.3, pos: posD,
  min: 0.01, max: 10, ticks: [0.03, 0.1, 1, 10], thr: 0.03,
  axisW: 29.2, title: 'activated CD4+', tickSize: 7, titleSize: 7, padT: 92, padR: 4,
  series: [dCd4Control, dCd4Solid, dCd4NHL, dCd4MPN, dCd4MM], colors: dotColD,
  mean: dCd4Mean, lo: dCd4SemLo, hi: dCd4SemHi, dotR: 2.5, spread: 7, meanHalf: 6.5, cap: 3, pSize: 8,
  cats: groupsD, catGap: 54,
  brackets: [
    { a: 0, b: 4, edge: 224, legA: 0.243, legB: 72, p: '0.0058' },
    { a: 1, b: 4, edge: 48, legA: 2.1, legB: 32, p: '0.0104' },
    { a: 3, b: 4, edge: 10.8, legA: 0.94, legB: 7.2, p: '0.0151' }
  ]
});
barPanel({
  l: 559, r: 658, t: 932, b: 1002, x0: 571.7, unit: 18.3, pos: posD, max: 62, ticks: [20, 40, 60],
  axisW: 20.9, vals: dCd4Fail, colors: barColD, barW: 10, tickSize: 7, titleSize: 7,
  labelSize: 8, zeroGap: 3.5, padR: 4, padB: 10
});

logPanel({
  l: 681.7, r: 791, t: 844.3, b: 929.3, x0: 700, unit: 18.35, pos: posD,
  min: 0.01, max: 10, ticks: [0.03, 0.1, 1, 10], thr: 0.03,
  axisW: 23.6, title: 'activated CD8+', tickSize: 7, titleSize: 7, padT: 92, padR: 2,
  series: [dCd8Control, dCd8Solid, dCd8NHL, dCd8MPN, dCd8MM], colors: dotColD,
  mean: dCd8Mean, lo: dCd8SemLo, hi: dCd8SemHi, dotR: 2.5, spread: 7, meanHalf: 6.5, cap: 3, pSize: 8,
  cats: groupsD, catGap: 54
});
barPanel({
  l: 681.7, r: 791, t: 934, b: 1002.5, x0: 700, unit: 18.35, pos: posD, max: 100, ticks: [20, 40, 60, 80, 100],
  axisW: 19.2, vals: dCd8Fail, colors: barColD, barW: 17, tickSize: 7, titleSize: 7,
  labelSize: 8, zeroGap: 3.5, padR: 2, padB: 10
});
</script>
</body>
</html>
